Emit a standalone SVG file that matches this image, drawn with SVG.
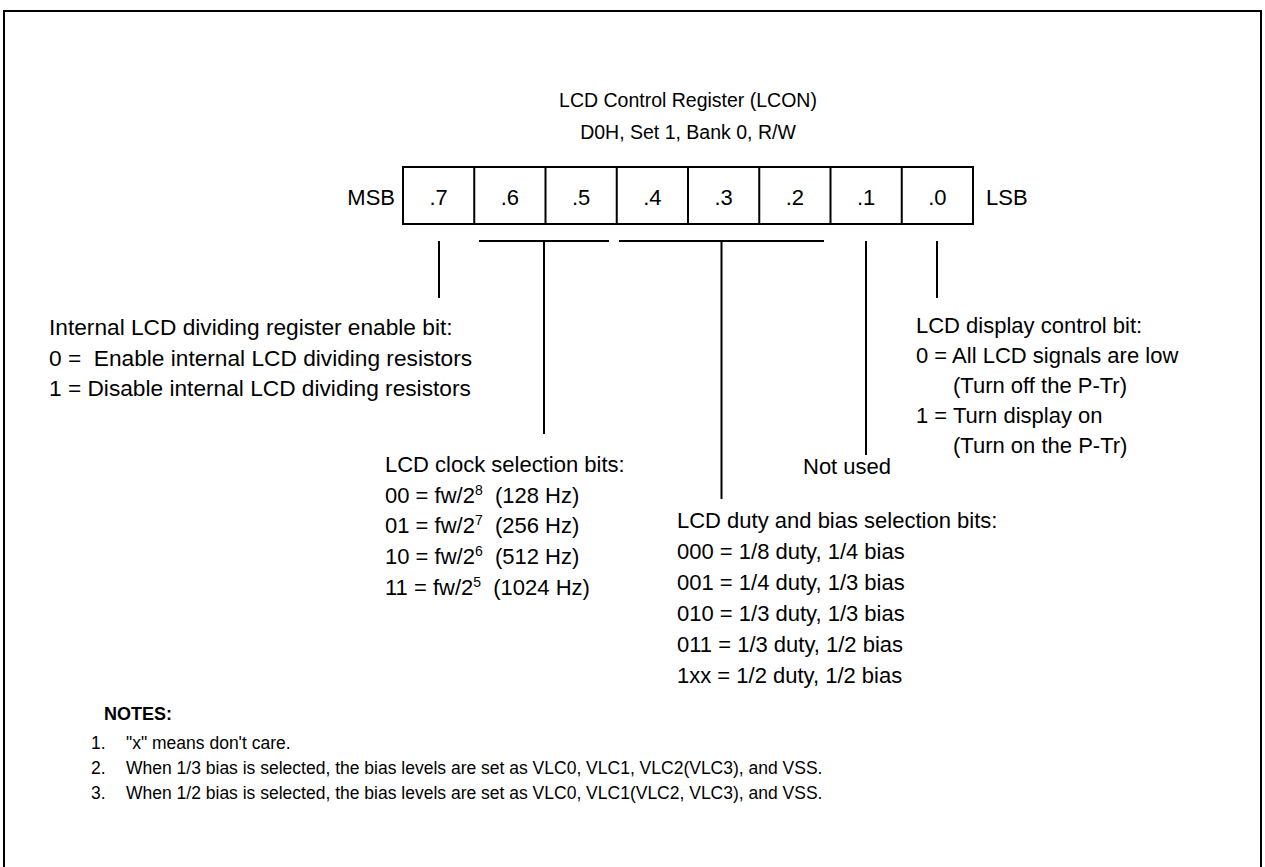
<svg xmlns="http://www.w3.org/2000/svg" width="1265" height="867" viewBox="0 0 1265 867">
<style>
text{font-family:"Liberation Sans",Arial,sans-serif;font-size:22px;fill:#000}
.c{text-anchor:middle}
.e{text-anchor:end}
.t{font-size:19.5px}
.l{font-size:22.7px}
.n{font-size:17.5px}
.b{font-weight:bold;font-size:18px}
.ln{stroke:#000;stroke-width:2;fill:none}
.cell{stroke:#000;stroke-width:2;fill:#fff}
</style>
<rect x="0" y="0" width="1265" height="867" fill="#fff"/>
<rect x="4" y="11" width="1257" height="870" fill="none" stroke="#000" stroke-width="2"/>
<g id="title">
<text class="c t" x="688" y="107">LCD Control Register (LCON)</text>
<text class="c t" x="688" y="139">D0H, Set 1, Bank 0, R/W</text>
</g>
<g id="register">
<text class="e" x="395" y="205">MSB</text>
<rect class="cell" x="403" y="167" width="570" height="57"/>
<path class="ln" d="M474.25 167V224M545.5 167V224M616.75 167V224M688 167V224M759.25 167V224M830.5 167V224M901.75 167V224"/>
<text class="c" x="438.6" y="205">.7</text>
<text class="c" x="509.9" y="205">.6</text>
<text class="c" x="581.1" y="205">.5</text>
<text class="c" x="652.4" y="205">.4</text>
<text class="c" x="723.6" y="205">.3</text>
<text class="c" x="794.9" y="205">.2</text>
<text class="c" x="866.1" y="205">.1</text>
<text class="c" x="937.4" y="205">.0</text>
<text x="986" y="205">LSB</text>
</g>
<g id="connectors">
<path class="ln" d="M439 241V298"/>
<path class="ln" d="M479 241H609M544 241V434"/>
<path class="ln" d="M619 241H824M721.5 241V499"/>
<path class="ln" d="M866 241V455"/>
<path class="ln" d="M937 241V298"/>
</g>
<g id="bit7">
<text class="l" x="49" y="335">Internal LCD dividing register enable bit:</text>
<text class="l" x="49" y="366" xml:space="preserve">0 =  Enable internal LCD dividing resistors</text>
<text class="l" x="49" y="396">1 = Disable internal LCD dividing resistors</text>
</g>
<g id="bit65">
<text x="385" y="472">LCD clock selection bits:</text>
<text x="385" y="503">00 = fw/2<tspan font-size="14" dy="-8">8</tspan><tspan dy="8" xml:space="preserve">  (128 Hz)</tspan></text>
<text x="385" y="533">01 = fw/2<tspan font-size="14" dy="-8">7</tspan><tspan dy="8" xml:space="preserve">  (256 Hz)</tspan></text>
<text x="385" y="564">10 = fw/2<tspan font-size="14" dy="-8">6</tspan><tspan dy="8" xml:space="preserve">  (512 Hz)</tspan></text>
<text x="385" y="595">11 = fw/2<tspan font-size="14" dy="-8">5</tspan><tspan dy="8" xml:space="preserve">  (1024 Hz)</tspan></text>
</g>
<g id="bit42">
<text x="677" y="528">LCD duty and bias selection bits:</text>
<text x="677" y="559">000 = 1/8 duty, 1/4 bias</text>
<text x="677" y="590">001 = 1/4 duty, 1/3 bias</text>
<text x="677" y="621">010 = 1/3 duty, 1/3 bias</text>
<text x="677" y="652">011 = 1/3 duty, 1/2 bias</text>
<text x="677" y="683">1xx = 1/2 duty, 1/2 bias</text>
</g>
<g id="bit1">
<text x="803" y="474">Not used</text>
</g>
<g id="bit0">
<text x="916" y="333">LCD display control bit:</text>
<text x="916" y="363">0 = All LCD signals are low</text>
<text x="953" y="393">(Turn off the P-Tr)</text>
<text x="916" y="423">1 = Turn display on</text>
<text x="953" y="453">(Turn on the P-Tr)</text>
</g>
<g id="notes">
<text class="b" x="104" y="720">NOTES:</text>
<text class="n" x="91" y="749">1.</text>
<text class="n" x="126" y="749">"x" means don't care.</text>
<text class="n" x="91" y="774">2.</text>
<text class="n" x="126" y="774">When 1/3 bias is selected, the bias levels are set as VLC0, VLC1, VLC2(VLC3), and VSS.</text>
<text class="n" x="91" y="799">3.</text>
<text class="n" x="126" y="799">When 1/2 bias is selected, the bias levels are set as VLC0, VLC1(VLC2, VLC3), and VSS.</text>
</g>
</svg>
